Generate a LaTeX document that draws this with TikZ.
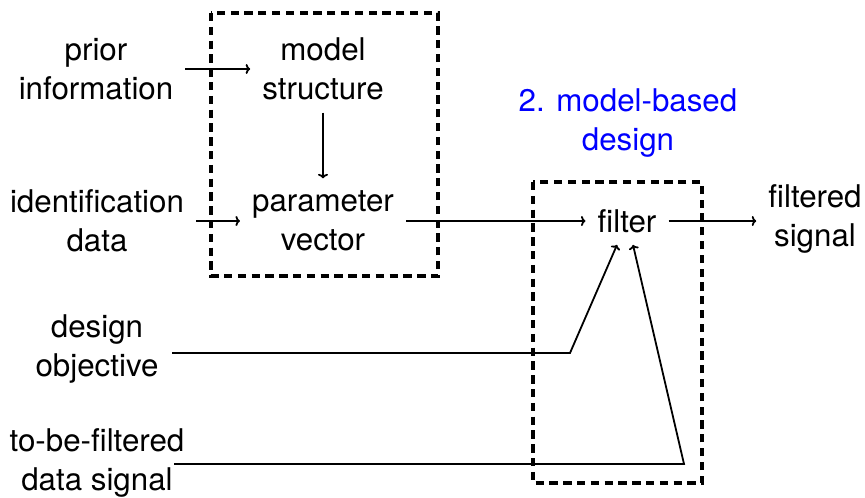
\documentclass[tikz,border=0pt]{standalone}
\usepackage{fontspec}
\setmainfont{TeX Gyre Heros}
\usetikzlibrary{arrows.meta}
\begin{document}
\begin{tikzpicture}[x=1pt,y=-1pt,
  lbl/.style={align=center,inner sep=12pt,font=\fontsize{31.3}{39.5}\selectfont},
  conn/.style={line width=1.8pt,-{To[length=4.5pt,width=10pt]}},
  dbox/.style={draw,line width=4pt,dash pattern=on 8.3pt off 5.5pt}]
\useasboundingbox (0,0) rectangle (865,498);
\draw[dbox] (211,13) rectangle (438,276);
\draw[dbox] (533,182) rectangle (702,483);
\node[lbl] (prior) at (96,69) {prior\\information};
\node[lbl] (model) at (323,69) {model\\structure};
\node[lbl] (ident) at (97,221) {identification\\data};
\node[lbl] (param) at (323,221) {parameter\\vector};
\node[lbl] (filter) at (627,221) {filter};
\node[lbl] (filtered) at (815,219) {filtered\\signal};
\node[lbl,text=blue] (mbd) at (628,123) {2. model-based\\design};
\node[lbl] (design) at (97,349) {design\\objective};
\node[lbl] (tbf) at (97,463) {to-be-filtered\\data signal};
\coordinate (d0) at (172,353);
\coordinate (b1) at (570,353);
\coordinate (t0) at (174,464);
\coordinate (b2) at (684,464);
\draw[conn] (prior.east) -- (prior.east -| model.west);
\draw[conn] (model.south) -- (model.south |- param.north);
\draw[conn] (ident.east) -- (param.west);
\draw[conn] (param.east) -- (param.east -| filter.west);
\draw[conn] (filter.east |- param.east) -- (filtered.west |- param.east);
\draw[conn] (d0) -- (b1) -- ([xshift=-10pt]filter.south);
\draw[conn] (t0) -- (b2) -- ([xshift=6pt]filter.south);
\end{tikzpicture}
\end{document}
